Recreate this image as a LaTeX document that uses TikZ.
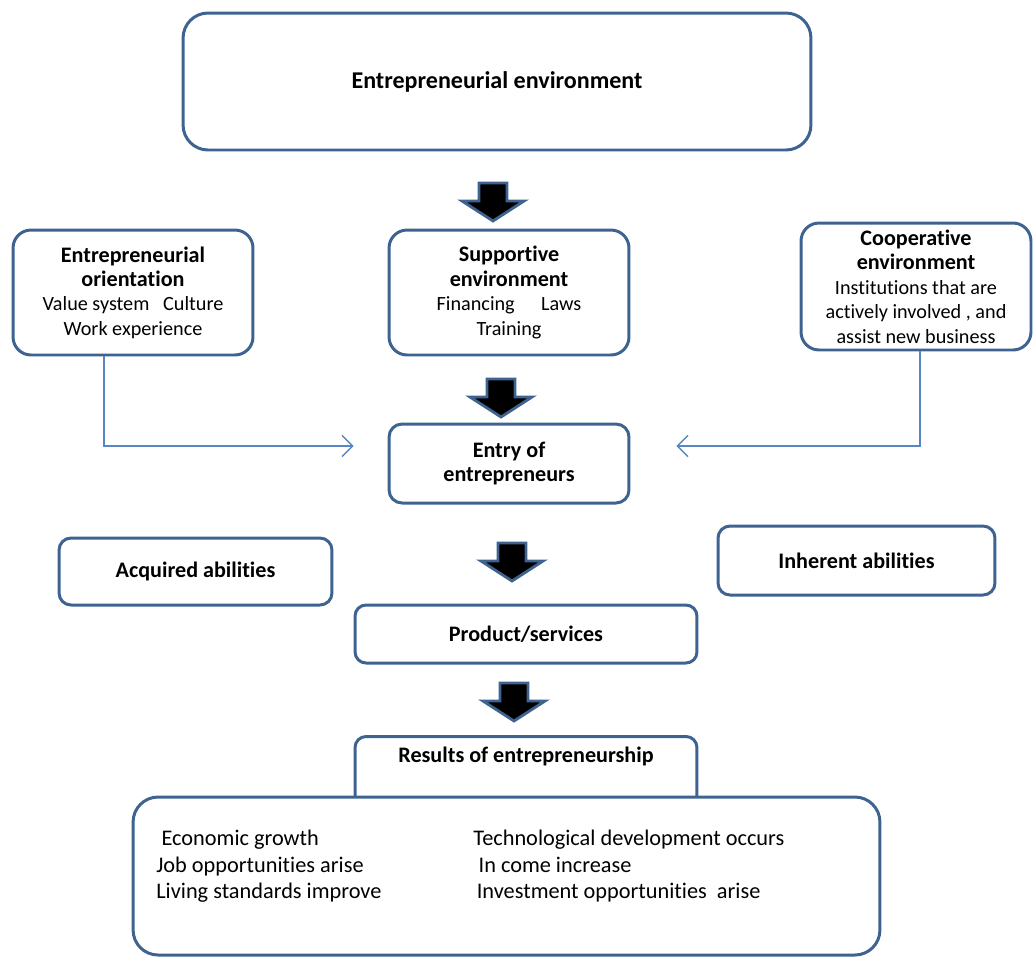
\documentclass[tikz,border=0pt]{standalone}
\usepackage{fontspec}
\setmainfont{Carlito}[Ligatures=NoCommon]
\usetikzlibrary{arrows.meta,positioning,calc}
\definecolor{boxblue}{HTML}{3F6391}
\definecolor{linkblue}{HTML}{5886C4}
\newcommand{\hd}[1]{{\fontsize{12.6}{15}\selectfont\textbf{#1}}}
\tikzset{
    box/.style={draw=boxblue, line width=1.7pt, rounded corners=0.36cm, fill=white,
                align=center, inner sep=2pt, font=\fontsize{11.5}{13.9}\selectfont},
    link/.style={draw=linkblue, line width=0.8pt, -{Straight Barb[length=6pt,width=12pt]}},
    blockarrow/.style={fill=black, draw=boxblue, line width=1.6pt, line join=miter}
}

\begin{document}
\begin{tikzpicture}[x=0.02cm, y=-0.02cm]
    \useasboundingbox (0,0) rectangle (1033,958);

    \node[box, rounded corners=0.5cm, minimum width=12.56cm, minimum height=2.74cm] (env) at (497, 81.5)
        {\fontsize{13.7}{16}\selectfont\textbf{Entrepreneurial environment}};

    \node[box, minimum width=4.8cm, minimum height=2.5cm] (orient) at (133, 292.5)
        {\hd{Entrepreneurial}\\ \hd{orientation}\\ Value system\ \ \ Culture\\ Work experience};
    \node[box, minimum width=4.8cm, minimum height=2.5cm] (support) at (509, 292.5)
        {\hd{Supportive}\\ \hd{environment}\\ Financing\hspace{15pt}Laws\\ Training};
    \node[box, minimum width=4.6cm, minimum height=2.54cm] (coop) at (916, 286.5)
        {\hd{Cooperative}\\ \hd{environment}\\ Institutions that are\\ actively involved , and\\ assist new business};

    \node[box, rounded corners=0.26cm, minimum width=4.8cm, minimum height=1.58cm] (entry) at (509, 463.5)
        {\hd{Entry of}\\ \hd{entrepreneurs}};

    \node[box, rounded corners=0.24cm, minimum width=5.46cm, minimum height=1.34cm] (acquired) at (195.5, 571.5)
        {\hd{Acquired abilities}};
    \node[box, rounded corners=0.24cm, minimum width=5.54cm, minimum height=1.38cm] (inherent) at (856.5, 560.5)
        {\hd{Inherent abilities}};

    \node[box, rounded corners=0.22cm, minimum width=6.84cm, minimum height=1.16cm] (product) at (526, 634)
        {\hd{Product/services}};

    % results tab, lower part hidden by the outcome box
    \node[box, rounded corners=0.22cm, minimum width=6.84cm, minimum height=1.5cm, anchor=north] (results) at (526, 735) {};
    \node[below=0.12cm of results.north] (resultslbl) {\hd{Results of entrepreneurship}};

    \node[box, rounded corners=0.5cm, minimum width=14.94cm, minimum height=3.16cm] (outcome) at (506.5, 876) {};
    \node[anchor=north west, align=left, inner sep=0pt, font=\fontsize{12.7}{15.1}\selectfont] (leftcol)
        at (156, 830) {\hspace{3pt}Economic growth\\ Job opportunities arise\\ Living standards improve};
    \node[anchor=north west, align=left, inner sep=0pt, font=\fontsize{12.7}{15.1}\selectfont] (rightcol)
        at (473, 830) {Technological development occurs\\ \hspace{3pt}In come increase\\ \hspace{2pt}Investment opportunities\ \ arise};

    % side links into entry
    \draw[link] ([xshift=-0.58cm]orient.south) |- ([xshift=-0.68cm, yshift=0.35cm]entry.west);
    \draw[link] ([xshift=0.08cm]coop.south) |- ([xshift=0.92cm, yshift=0.35cm]entry.east);

    % block arrows down the middle
    \foreach \cx/\ty in {493/183, 501/379, 512/543, 514/683}
        \filldraw[blockarrow] ({\cx-14},\ty) -- ({\cx+14},\ty) -- ({\cx+14},{\ty+18}) -- ({\cx+31},{\ty+18})
            -- (\cx,{\ty+38}) -- ({\cx-31},{\ty+18}) -- ({\cx-14},{\ty+18}) -- cycle;

\end{tikzpicture}
\end{document}
